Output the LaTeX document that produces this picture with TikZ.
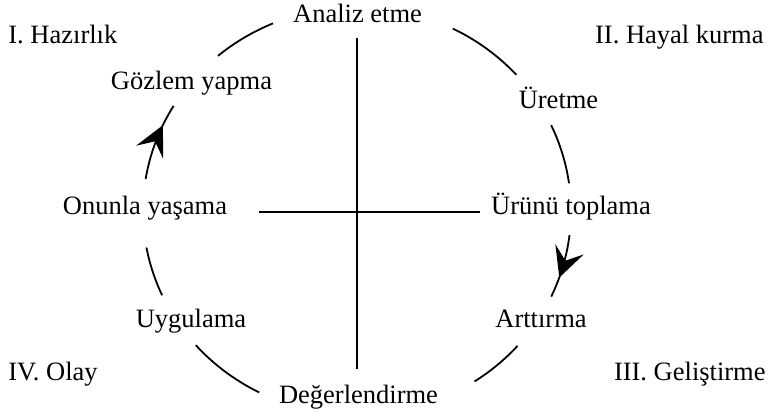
\documentclass[tikz,border=0pt]{standalone}
\usepackage{fontspec}
\setmainfont{Liberation Serif}
\usetikzlibrary{arrows.meta,decorations.markings}
\tikzset{
  lbl/.style={inner sep=0pt, font=\fontsize{13.25}{16}\selectfont},
  ring/.style={line width=0.9pt},
  arrowmid/.style={postaction={decorate}, decoration={markings,
     mark=at position #1 with {\arrow{Stealth[length=15pt,width=15pt,inset=6pt]}}}},
  crossline/.style={line width=0.9pt}
}
\begin{document}
\begin{tikzpicture}[x=0.5pt,y=0.5pt]
\useasboundingbox (0,0) rectangle (770,416);
\coordinate (c) at (357,205);
% labels
\node[lbl, anchor=base] (ana) at (357.5,393) {Analiz etme};
\node[lbl, anchor=base] (deg) at (358.5,12) {Değerlendirme};
\node[lbl, anchor=base] (goz) at (191.5,326) {Gözlem yapma};
\node[lbl, anchor=base] (ure) at (558.5,307) {Üretme};
\node[lbl, anchor=base] (onu) at (145,201) {Onunla yaşama};
\node[lbl, anchor=base] (uru) at (571,201) {Ürünü toplama};
\node[lbl, anchor=base] (uyg) at (191,88) {Uygulama};
\node[lbl, anchor=base] (art) at (541,88) {Arttırma};
\node[lbl, anchor=base west] (haz) at (8,372) {I. Hazırlık};
\node[lbl, anchor=base east] (hay) at (764,372) {II. Hayal kurma};
\node[lbl, anchor=base west] (ola) at (8,35) {IV. Olay};
\node[lbl, anchor=base east] (gel) at (766,35) {III. Geliştirme};
% cross
\coordinate (vt) at (357,378);
\coordinate (vb) at (357,47);
\coordinate (hl) at (259,204);
\coordinate (hr) at (480,204);
\draw[crossline] (vt) -- (vb);
\draw[crossline] (hl) -- (hr);
% ring arcs
\draw[ring] ([shift={(113.1:214 and 204)}]c) arc[start angle=113.1, end angle=130.5, x radius=214, y radius=204];
\draw[ring] ([shift={(63.4:214 and 204)}]c) arc[start angle=63.4, end angle=41.9, x radius=214, y radius=204];
\draw[ring] ([shift={(24.9:214 and 204)}]c) arc[start angle=24.9, end angle=7.8, x radius=214, y radius=204];
\draw[ring, arrowmid=0.68] ([shift={(-6.8:214 and 204)}]c) arc[start angle=-6.8, end angle=-24.8, x radius=214, y radius=204];
\draw[ring] ([shift={(-41.4:214 and 204)}]c) arc[start angle=-41.4, end angle=-56.7, x radius=214, y radius=204];
\draw[ring] ([shift={(-117.2:214 and 204)}]c) arc[start angle=-117.2, end angle=-138.9, x radius=214, y radius=204];
\draw[ring] ([shift={(204.4:214 and 204)}]c) arc[start angle=204.4, end angle=190.3, x radius=214, y radius=204];
\draw[ring, arrowmid=0.72] ([shift={(171:214 and 204)}]c) arc[start angle=171, end angle=149, x radius=214, y radius=204];
\end{tikzpicture}
\end{document}
